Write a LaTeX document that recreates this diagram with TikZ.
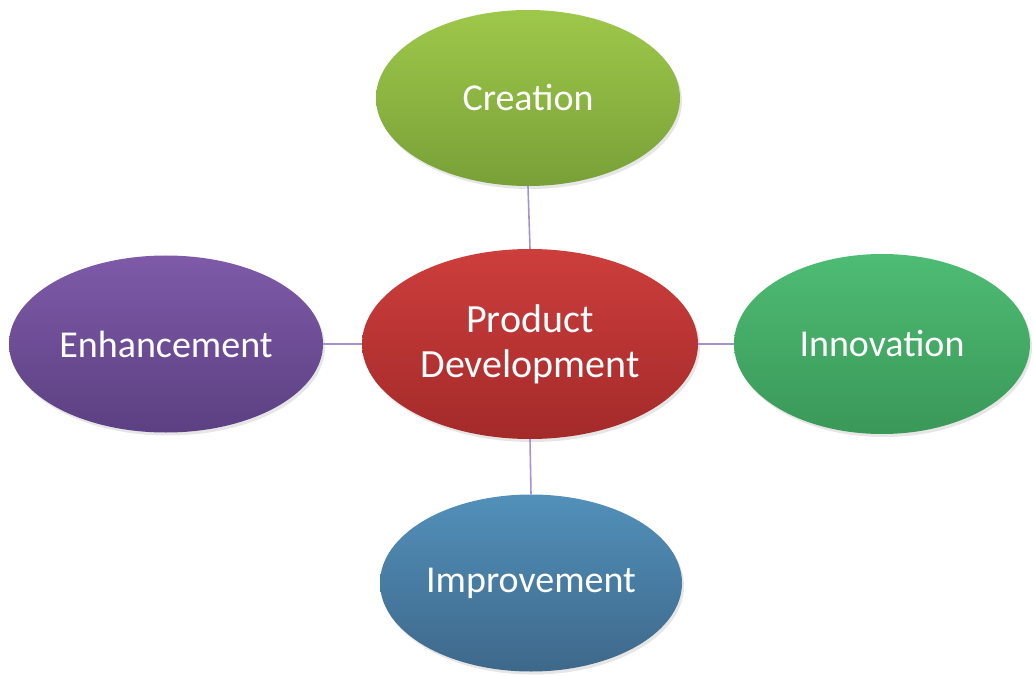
\documentclass[tikz,border=0pt]{standalone}
\usepackage{fontspec}
\setmainfont{Carlito}
\usetikzlibrary{shapes.geometric,shadows}

\definecolor{linkcol}{HTML}{A493CC}

\begin{document}
\begin{tikzpicture}[x=1pt, y=-1pt,
    blob/.style={ellipse, inner sep=0pt, text=white, align=center,
                 font=\fontsize{38}{41}\selectfont,
                 drop shadow={opacity=0.2, shadow xshift=2pt, shadow yshift=-3pt}},
    link/.style={draw=linkcol, line width=1.6pt}]
    \useasboundingbox (0,0) rectangle (1033,676);

    \node [blob, minimum width=304, minimum height=176,
           top color={rgb,255:red,158;green,200;blue,74},
           bottom color={rgb,255:red,120;green,160;blue,56}] (creation) at (528,98) {Creation};
    \node [blob, minimum width=336, minimum height=190,
           top color={rgb,255:red,204;green,62;blue,60},
           bottom color={rgb,255:red,164;green,42;blue,42},
           font=\fontsize{40}{45}\selectfont] (product) at (530,344) {Product\\Development};
    \node [blob, minimum width=314, minimum height=177,
           top color={rgb,255:red,126;green,90;blue,168},
           bottom color={rgb,255:red,92;green,64;blue,130}] (enhance) at (166,344) {Enhancement};
    \node [blob, minimum width=296, minimum height=180,
           top color={rgb,255:red,78;green,188;blue,116},
           bottom color={rgb,255:red,58;green,152;blue,88}] (innov) at (882,344) {Innovation};
    \node [blob, minimum width=302, minimum height=177,
           top color={rgb,255:red,82;green,144;blue,186},
           bottom color={rgb,255:red,62;green,104;blue,138}] (improve) at (531,583) {Improvement};

    \draw [link] (creation.south) -- (product.north);
    \draw [link] (enhance.east) -- (product.west);
    \draw [link] (product.east) -- (innov.west);
    \draw [link] (product.south) -- (improve.north);
\end{tikzpicture}
\end{document}
